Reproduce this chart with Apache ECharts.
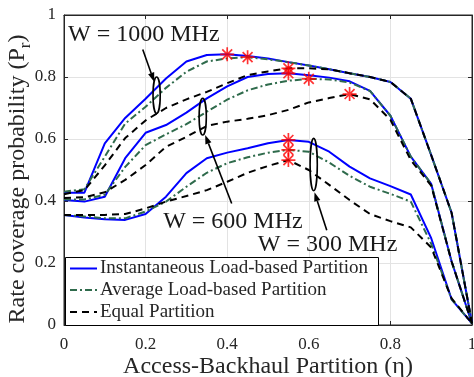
<!DOCTYPE html>
<html>
<head>
<meta charset="utf-8">
<script src="https://cdn.jsdelivr.net/npm/echarts@6/dist/echarts.min.js"></script>
<style>html,body{margin:0;padding:0;background:#fff}#c{width:474px;height:377px}</style>
</head>
<body>
<div id="c"></div>
<script>
const eta = [0,0.05,0.1,0.15,0.2,0.25,0.3,0.35,0.4,0.45,0.5,0.55,0.6,0.65,0.7,0.75,0.8,0.85,0.9,0.95,1];
const inst1000 = [0.427,0.427,0.586,0.668,0.730,0.795,0.850,0.871,0.873,0.868,0.860,0.848,0.837,0.825,0.812,0.800,0.784,0.730,0.548,0.362,0.005];
const avg1000  = [0.430,0.438,0.543,0.650,0.704,0.765,0.817,0.850,0.860,0.864,0.857,0.848,0.837,0.825,0.812,0.800,0.784,0.730,0.548,0.362,0.005];
const eq1000   = [0.422,0.435,0.515,0.603,0.660,0.700,0.728,0.752,0.780,0.806,0.818,0.828,0.828,0.825,0.812,0.800,0.784,0.730,0.548,0.362,0.005];
const inst600  = [0.403,0.398,0.414,0.538,0.620,0.645,0.685,0.731,0.770,0.800,0.810,0.812,0.806,0.798,0.786,0.755,0.675,0.543,0.455,0.205,0.005];
const avg600   = [0.405,0.405,0.420,0.510,0.580,0.615,0.648,0.688,0.727,0.757,0.776,0.788,0.794,0.792,0.782,0.755,0.675,0.543,0.455,0.205,0.005];
const eq600    = [0.410,0.412,0.428,0.468,0.516,0.575,0.607,0.642,0.656,0.665,0.677,0.694,0.718,0.732,0.745,0.728,0.662,0.532,0.450,0.205,0.005];
const inst300  = [0.355,0.347,0.341,0.339,0.358,0.414,0.490,0.538,0.556,0.570,0.586,0.597,0.591,0.559,0.511,0.473,0.448,0.421,0.280,0.083,0.005];
const avg300   = [0.355,0.350,0.344,0.344,0.366,0.398,0.446,0.491,0.522,0.541,0.556,0.565,0.559,0.524,0.481,0.446,0.423,0.398,0.262,0.083,0.005];
const eq300    = [0.355,0.355,0.355,0.358,0.376,0.398,0.416,0.435,0.462,0.491,0.513,0.532,0.500,0.452,0.403,0.358,0.335,0.315,0.250,0.086,0.005];
// optimal partition (eta) of each curve, marked with red asterisks
const optInst = {w1000: 0.4, w600: 0.55, w300: 0.55};
const optAvg  = {w1000: 0.45, w600: 0.6, w300: 0.55};
const optEq   = {w1000: 0.55, w600: 0.7, w300: 0.55};
const xTicks = [0,0.2,0.4,0.6,0.8,1];
const yTicks = [0,0.2,0.4,0.6,0.8,1];
const names = ['Instantaneous Load-based Partition','Average Load-based Partition','Equal Partition'];
const labels = ['W = 1000 MHz','W = 600 MHz','W = 300 MHz'];

const FONT = 'Liberation Serif';
const BLUE = '#0000ff', GREEN = '#2f6b4c', BLACK = '#000000';
const DASH_AVG = [7,3,2,3], DASH_EQ = [7,5];
const pairs = arr => eta.map((e,i)=>[e,arr[i]]);
const at = (arr,e) => arr[eta.findIndex(v=>Math.abs(v-e)<1e-9)];

function lineSeries(name, data, color, type, z){
  return {type:'line', name, data:pairs(data), symbol:'none', z,
    lineStyle:{color, width:2, type}, itemStyle:{color}, emphasis:{disabled:true}, animation:false};
}
const groups = [
  {inst:inst1000, avg:avg1000, eq:eq1000, k:'w1000'},
  {inst:inst600, avg:avg600, eq:eq600, k:'w600'},
  {inst:inst300, avg:avg300, eq:eq300, k:'w300'}
];
const series = [];
groups.forEach(g=>{
  series.push(lineSeries(names[0], g.inst, BLUE, 'solid', 2));
  series.push(lineSeries(names[1], g.avg, GREEN, DASH_AVG, 3));
  series.push(lineSeries(names[2], g.eq, BLACK, DASH_EQ, 4));
});
const stars = [];
groups.forEach(g=>{
  stars.push([optInst[g.k], at(g.inst, optInst[g.k])]);
  stars.push([optAvg[g.k], at(g.avg, optAvg[g.k])]);
  stars.push([optEq[g.k], at(g.eq, optEq[g.k])]);
});
series.push({type:'scatter', name:'opt', data:stars, z:10, symbolSize:14,
  symbol:'path://M0,-10L0,10M-10,0L10,0M-7.07,-7.07L7.07,7.07M-7.07,7.07L7.07,-7.07',
  itemStyle:{color:'rgba(0,0,0,0)', borderColor:'#ff0000', borderWidth:1.7}, emphasis:{disabled:true}, animation:false});

const axisCommon = {
  min:0, max:1, interval:0.2,
  axisLine:{show:true, onZero:false, lineStyle:{color:'#262626', width:1}},
  axisTick:{show:true, inside:true, length:4, lineStyle:{color:'#262626'}},
  splitLine:{show:true, lineStyle:{color:'#e3e3e3', width:1}},
};
const chart = echarts.init(document.getElementById('c'), null, {renderer:'canvas'});
chart.setOption({
  backgroundColor:'#fff',
  animation:false,
  grid:{left:64, right:2, top:15, bottom:52, show:true, borderColor:'#262626', borderWidth:1,
    containLabel:false, outerBoundsMode:'none'},
  xAxis:[Object.assign({type:'value', position:'bottom',
    name:'Access-Backhaul Partition (\u03b7)', nameLocation:'middle', nameGap:30, nameMoveOverlap:false,
    nameTextStyle:{fontFamily:FONT, fontSize:24, color:'#262626'},
    axisLabel:{fontFamily:FONT, fontSize:17, color:'#262626', margin:11,
      formatter:v=>{const t=xTicks.find(x=>Math.abs(x-v)<1e-9); return t===undefined?'':String(t);}}
  }, axisCommon),
  Object.assign({type:'value', position:'top', axisLabel:{show:false}}, axisCommon, {splitLine:{show:false}})],
  yAxis:[Object.assign({type:'value', position:'left',
    name:'Rate coverage probability (P{s|r})', nameLocation:'middle', nameGap:34, nameMoveOverlap:false,
    nameTextStyle:{fontFamily:FONT, fontSize:24, color:'#262626', padding:[0,18,0,0],
      rich:{s:{fontFamily:FONT, fontSize:17, color:'#262626', verticalAlign:'bottom', padding:[0,0,-4,0]}}},
    axisLabel:{fontFamily:FONT, fontSize:17, color:'#262626', margin:8,
      formatter:v=>{const t=yTicks.find(x=>Math.abs(x-v)<1e-9); return t===undefined?'':String(t);}}
  }, axisCommon),
  Object.assign({type:'value', position:'right', axisLabel:{show:false}}, axisCommon, {splitLine:{show:false}})],
  series
});

const P = (x,y)=>chart.convertToPixel({gridIndex:0},[x,y]);
const gfx = [];

// legend box
const LG = {x:65, y:257, w:313, h:68, rows:[268.5, 290, 312]};
gfx.push({type:'rect', z:40, shape:{x:LG.x+0.5, y:LG.y+0.5, width:LG.w, height:LG.h}, style:{fill:'#fff', stroke:'#000', lineWidth:1}});
const legendStyles = [{c:BLUE, d:null},{c:GREEN, d:DASH_AVG},{c:BLACK, d:DASH_EQ}];
names.forEach((n,i)=>{
  const y = LG.rows[i];
  gfx.push({type:'line', z:41, shape:{x1:70, y1:y, x2:97, y2:y}, style:{stroke:legendStyles[i].c, lineWidth:2, lineDash:legendStyles[i].d}});
  gfx.push({type:'text', z:41, x:100, y:y, style:{text:n, fontFamily:FONT, fontSize:19, fill:'#262626', align:'left', verticalAlign:'middle'}});
});

// annotations (ellipses and arrows anchored in data coordinates)
const ellipses = [
  {x:0.227, y0:0.683, y1:0.800},
  {x:0.340, y0:0.613, y1:0.731},
  {x:0.612, y0:0.433, y1:0.602}
];
const arrows = [
  {from:[0.193,0.889], to:[0.221,0.785]},
  {from:[0.411,0.392], to:[0.346,0.613]},
  {from:[0.644,0.306], to:[0.614,0.428]}
];
const texts = [
  {x:0.010, y:0.935},
  {x:0.243, y:0.333},
  {x:0.475, y:0.259}
];
ellipses.forEach(e=>{
  const a=P(e.x,e.y0), b=P(e.x,e.y1);
  gfx.push({type:'ellipse', z:30, shape:{cx:a[0], cy:(a[1]+b[1])/2, rx:3.6, ry:Math.abs(a[1]-b[1])/2},
    style:{fill:'none', stroke:'#000', lineWidth:1.6}});
});
arrows.forEach(r=>{
  const a=P(r.from[0],r.from[1]), b=P(r.to[0],r.to[1]);
  const dx=b[0]-a[0], dy=b[1]-a[1], L=Math.hypot(dx,dy), ux=dx/L, uy=dy/L;
  const hl=9, hw=3.2;
  const bx=b[0]-ux*hl, by=b[1]-uy*hl;
  gfx.push({type:'line', z:30, shape:{x1:a[0], y1:a[1], x2:bx, y2:by}, style:{stroke:'#000', lineWidth:1.6}});
  gfx.push({type:'polygon', z:30, shape:{points:[[b[0],b[1]],[bx-uy*hw,by+ux*hw],[bx+uy*hw,by-ux*hw]]}, style:{fill:'#000'}});
});
texts.forEach((t,i)=>{
  const p=P(t.x,t.y);
  gfx.push({type:'text', z:30, x:p[0], y:p[1], style:{text:labels[i], fontFamily:FONT, fontSize:24, fill:'#1a1a1a', align:'left', verticalAlign:'middle'}});
});
chart.setOption({graphic:gfx});
</script>
</body>
</html>
